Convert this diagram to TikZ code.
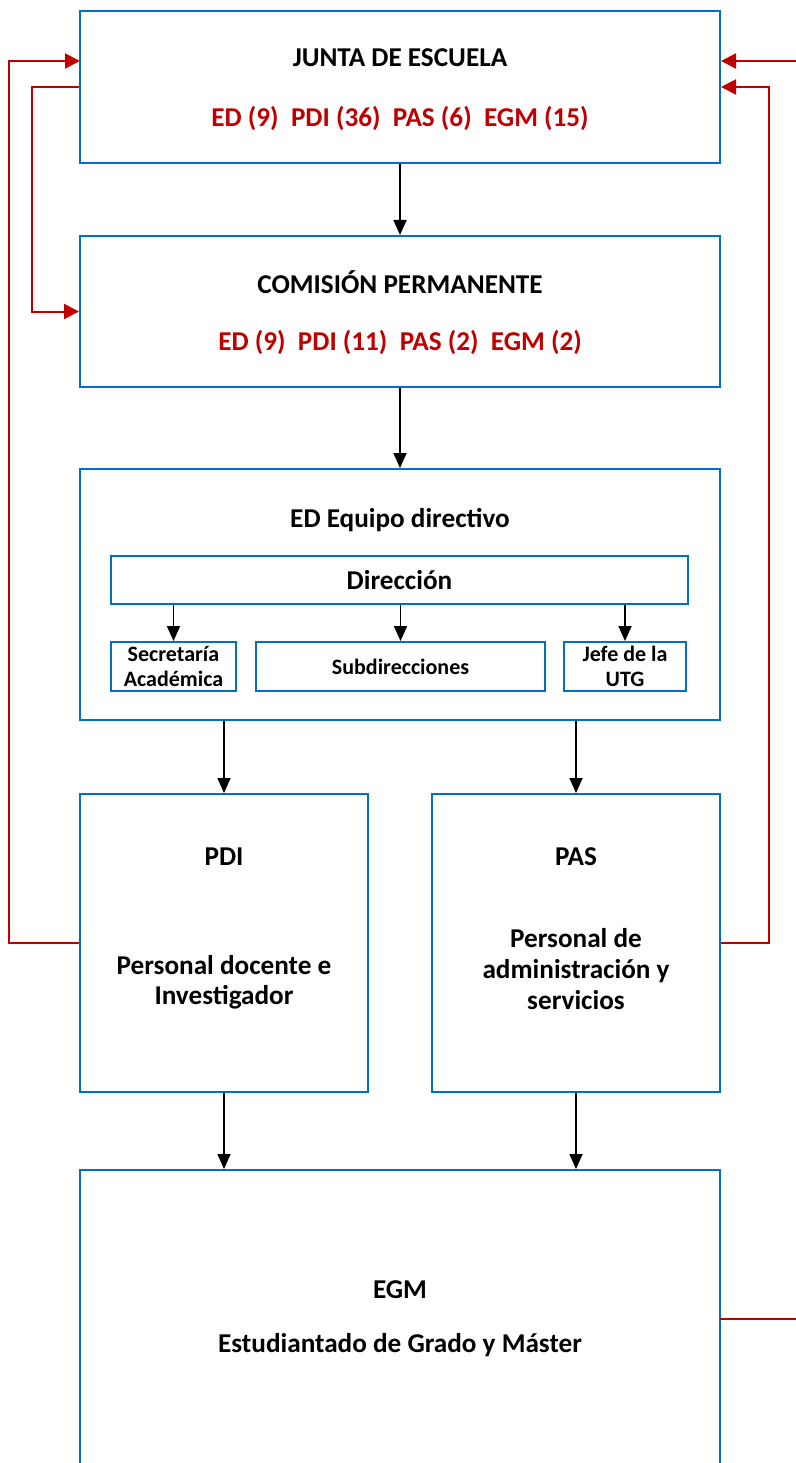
\documentclass[tikz,border=0pt]{standalone}
\usepackage{fontspec}
\setmainfont{Carlito}
\usetikzlibrary{arrows.meta}

\definecolor{boxblue}{HTML}{0070C0}
\definecolor{backred}{HTML}{C00000}

\begin{document}
\begin{tikzpicture}[x=1pt, y=-1pt,
		font=\fontsize{27.2}{30}\selectfont\bfseries,
		box/.style={draw=boxblue, line width=2pt, fill=white, inner sep=0pt},
		subbox/.style={box, align=center, font=\fontsize{22}{25}\selectfont\bfseries},
		down/.style={-{Triangle[length=15pt,width=13pt]}, line width=1.8pt},
		back/.style={backred, line width=2pt},
		backarrow/.style={back, -{Triangle[length=15pt,width=15pt]}},
		count/.style={text=backred}]

	\useasboundingbox (0,0) rectangle (795,1463);

	% main boxes
	\node[box, minimum width=640pt, minimum height=152pt] (junta) at (400,87) {};
	\node[box, minimum width=640pt, minimum height=151pt] (comision) at (400,311.5) {};
	\node[box, minimum width=640pt, minimum height=251pt] (ed) at (400,594.5) {};
	\node[box, minimum width=288pt, minimum height=298pt] (pdi) at (224,943) {};
	\node[box, minimum width=288pt, minimum height=298pt] (pas) at (576,943) {};
	\node[box, minimum width=640pt, minimum height=350pt] (egm) at (400,1345) {};

	\node (juntatitle) at (400,58) {JUNTA DE ESCUELA};
	\node[count] (juntacount) at (400,118) {ED (9)\ \ PDI (36)\ \ PAS (6)\ \ EGM (15)};
	\node (comisiontitle) at (400,282) {COMISIÓN PERMANENTE};
	\node[count] (comisioncount) at (400,342) {ED (9)\ \ PDI (11)\ \ PAS (2)\ \ EGM (2)};

	% equipo directivo
	\node (edtitle) at (400,520) {ED Equipo directivo};
	\node[box, minimum width=577pt, minimum height=48pt] (direccion) at (399.5,580) {Dirección};
	\node[subbox, minimum width=125pt, minimum height=49pt] (secretaria) at (173.5,666.5) {Secretaría\\Académica};
	\node[subbox, minimum width=289pt, minimum height=49pt] (subdir) at (400.5,666.5) {Subdirecciones};
	\node[subbox, minimum width=122pt, minimum height=49pt] (jefe) at (625,666.5) {Jefe de la\\UTG};

	\draw[down] (direccion.south -| secretaria) -- (secretaria);
	\draw[down] (direccion.south -| subdir) -- (subdir);
	\draw[down] (direccion.south -| jefe) -- (jefe);

	\node (pdititle) at (224,857) {PDI};
	\node[align=center] (pdiname) at (224,982) {Personal docente e\\Investigador};
	\node (pastitle) at (576,857) {PAS};
	\node[align=center, font=\fontsize{27.2}{31}\selectfont\bfseries] (pasname) at (576,969.5) {Personal de\\administración y\\servicios};
	\node (egmtitle) at (400,1290) {EGM};
	\node (egmname) at (400,1345) {Estudiantado de Grado y Máster};

	% flow down
	\draw[down] (junta) -- (comision);
	\draw[down] (comision) -- (ed);
	\draw[down] (ed.south -| pdi) -- (pdi);
	\draw[down] (ed.south -| pas) -- (pas);
	\draw[down] (pdi) -- (pdi |- egm.north);
	\draw[down] (pas) -- (pas |- egm.north);

	% red feedback lines
	\coordinate (leftin) at (80,61);
	\coordinate (rightin) at (800,61);
	\coordinate (egmside) at (720,1319);
	\coordinate (egmout) at (800,1319);

	\draw[backarrow] (pdi.west) -- ++(-70,0) |- (leftin);
	\draw[backarrow] (junta.west) -- ++(-47,0) |- (comision.west);
	\draw[backarrow] (pas.east) -- ++(48,0) |- (junta.east);
	\draw[backarrow] (rightin) -- (rightin -| junta.east);
	\draw[back] (egmside) -- (egmout);

\end{tikzpicture}
\end{document}
